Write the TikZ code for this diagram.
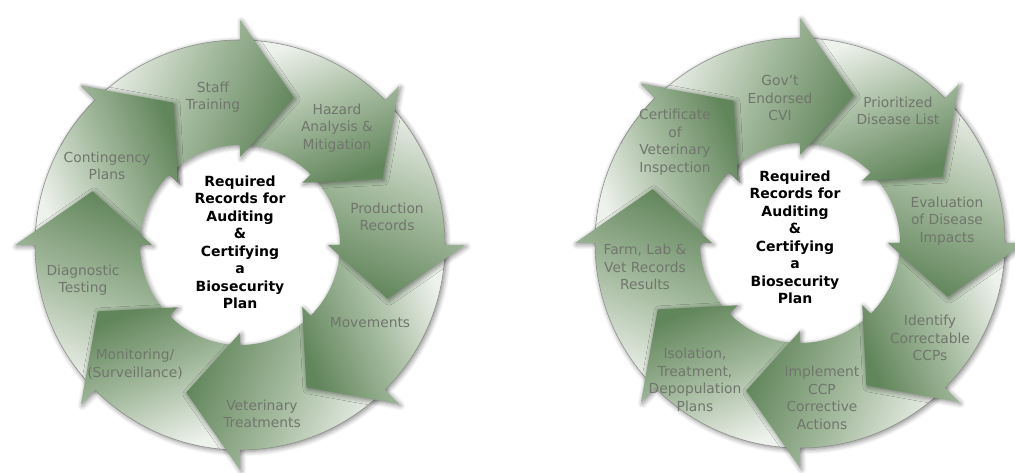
\documentclass[tikz,border=0pt]{standalone}
\usepackage{fontspec}
\setmainfont{DejaVu Sans}
\usetikzlibrary{shadows.blur}
\definecolor{argdark}{RGB}{98,134,92}
\definecolor{argmid}{RGB}{164,186,158}
\definecolor{arglight}{RGB}{238,242,236}
\definecolor{labgray}{RGB}{112,118,108}
\definecolor{rimgray}{RGB}{140,145,138}
\tikzset{
  lab/.style={text=labgray, align=center, font=\fontsize{13.8}{17.5}\selectfont, inner sep=0pt},
  hub/.style={text=black, align=center, font=\bfseries\fontsize{14}{17.5}\selectfont, inner sep=0pt},
  arrshadow/.style={blur shadow={shadow xshift=1.5pt, shadow yshift=-1.5pt, shadow blur radius=5pt, shadow blur steps=6, shadow opacity=48}},
  arrfill/.style={top color=argdark, bottom color=arglight, middle color=argmid, shading angle=#1},
  rim/.style={rimgray, line width=0.6pt},
}
\newcommand{\cycarrow}[1]{%
  \pgfmathsetmacro\cycang{#1-202.5}%
  \path[arrshadow, arrfill=\cycang]
    (#1+45:100) arc[start angle=#1+45, end angle=#1, radius=100] -- (#1:88) -- (#1-20:157) -- (#1:225) -- (#1:205) arc[start angle=#1, end angle=#1+45, radius=205] -- cycle;
  \draw[rim] (#1:205) arc[start angle=#1, end angle=#1+45, radius=205];
}
\newcommand{\cychead}[1]{%
  \pgfmathsetmacro\cycang{#1-202.5}%
  \begin{scope}
    \clip (0,0) -- (#1:320) -- (#1-45:320) -- (#1-90:320) -- cycle;
    \path[arrshadow] (#1:88) -- (#1-20:157) -- (#1:225) -- cycle;
  \end{scope}
  \begin{scope}
    \clip (0,0) -- (#1+15:320) -- (#1:320) -- (#1-30:320) -- cycle;
    \path[arrfill=\cycang]
      (#1+45:100) arc[start angle=#1+45, end angle=#1, radius=100] -- (#1:88) -- (#1-20:157) -- (#1:225) -- (#1:205) arc[start angle=#1, end angle=#1+45, radius=205] -- cycle;
  \end{scope}
  \draw[rim] (#1:205) arc[start angle=#1, end angle=#1+16, radius=205];
}
\begin{document}
\begin{tikzpicture}[x=1pt,y=1pt]
\useasboundingbox (0,0) rectangle (1015,472);
\begin{scope}[shift={(240,227)}]
  \foreach \t in {-225,-180,-135,-90,-45,0,45,90} {\cycarrow{\t}}
  \cychead{-225}
\end{scope}
\begin{scope}[shift={(800,229)}]
  \foreach \t in {-225,-180,-135,-90,-45,0,45,90} {\cycarrow{\t}}
  \cychead{-225}
\end{scope}
% left labels
\node[lab] (l1) at (213,375) {Staff\\Training};
\node[lab] (l2) at (337,344) {Hazard\\Analysis \&\\Mitigation};
\node[lab] (l3) at (387,255) {Production\\Records};
\node[lab] (l4) at (370,149) {Movements};
\node[lab] (l5) at (262,58) {Veterinary\\Treatments};
\node[lab] (l6) at (135,108) {Monitoring/\\(Surveillance)};
\node[lab] (l7) at (83,192) {Diagnostic\\Testing};
\node[lab] (l8) at (107,306) {Contingency\\Plans};
\node[hub] (lhub) at (240,229.5) {Required\\Records for\\Auditing\\\&\\Certifying\\a\\Biosecurity\\Plan};
% right labels
\node[lab] (r1) at (780,374) {Gov't\\Endorsed\\CVI};
\node[lab] (r2) at (898,361) {Prioritized\\Disease List};
\node[lab] (r3) at (947,251) {Evaluation\\of Disease\\Impacts};
\node[lab] (r4) at (930,134) {Identify\\Correctable\\CCPs};
\node[lab] (r5) at (822,74) {Implement\\CCP\\Corrective\\Actions};
\node[lab] (r6) at (695,92) {Isolation,\\Treatment,\\Depopulation\\Plans};
\node[lab] (r7) at (645,205) {Farm, Lab \&\\Vet Records\\Results};
\node[lab] (r8) at (675,330) {Certificate\\of\\Veterinary\\Inspection};
\node[hub] (rhub) at (795,234.5) {Required\\Records for\\Auditing\\\&\\Certifying\\a\\Biosecurity\\Plan};
\end{tikzpicture}
\end{document}
